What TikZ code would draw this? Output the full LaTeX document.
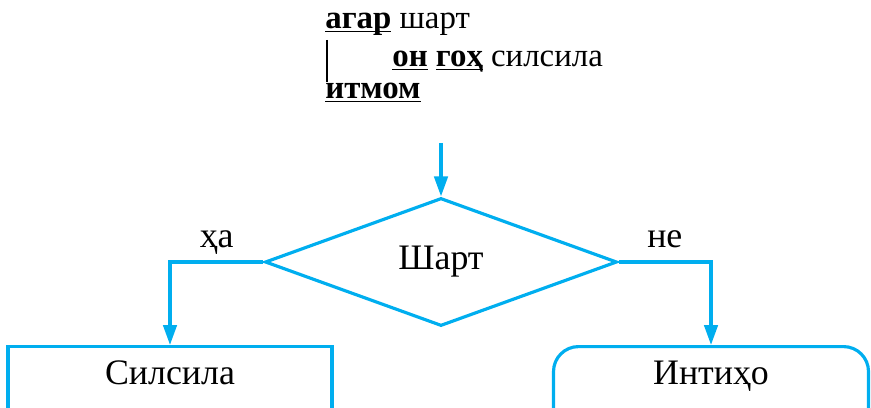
\documentclass[tikz,border=0pt]{standalone}
\usepackage{fontspec}
\setmainfont{Liberation Serif}
\usetikzlibrary{arrows.meta,positioning,shapes.geometric,calc}
\definecolor{flowblue}{RGB}{0,174,239}
\newcommand{\kw}[1]{\underline{\smash{\textbf{#1}}}}

\begin{document}
\begin{tikzpicture}[
    block/.style={draw=flowblue, line width=1.8pt, anchor=north, inner sep=0pt, text height=0.76cm, text depth=1cm, font=\fontsize{20.4}{24}\selectfont},
    cond/.style={diamond, draw=flowblue, line width=1.8pt, aspect=2.75, minimum width=7.04cm, minimum height=2.56cm, inner sep=0pt, font=\fontsize{20.4}{24}\selectfont},
    code/.style={anchor=base west, inner sep=0pt, font=\fontsize{18.7}{22}\selectfont},
    lbl/.style={anchor=base, inner sep=0pt, text=black, font=\fontsize{20.4}{24}\selectfont},
    arr/.style={-{Triangle[length=0.4cm, width=0.27cm]}, line width=1.8pt, flowblue},
]
\useasboundingbox (0,0) rectangle (17.42,8.14);
\clip (0,0) rectangle (17.42,8.14);

% pseudocode
\node[code] (l1) at (6.50,7.56) {\kw{агар} шарт};
\node[code] (l2) at (7.84,6.80) {\kw{он} \kw{гоҳ} силсила};
\node[code] (l3) at (6.50,6.16) {\kw{итмом}};
\draw[line width=1.4pt] ([shift={(0.04,-0.22)}]l1.base west) -- ([shift={(0.04,0.34)}]l3.base west);

% flowchart
\coordinate (in) at (8.82,5.28);
\node[cond] (c) at (8.82,2.90) {Шарт};
\node[block, minimum width=6.48cm] (loop) at (3.40,1.24) {Силсила};
\node[block, minimum width=6.30cm, rounded corners=0.5cm] (stop) at (14.22,1.24) {Интиҳо};

\draw[arr] (in) -- (c.north);
\draw[arr] (c.west) -| node[lbl, pos=0.25, yshift=0.3cm] (yes) {ҳа} (loop.north);
\draw[arr] (c.east) -| node[lbl, pos=0.25, yshift=0.3cm] (no) {не} (stop.north);
\end{tikzpicture}
\end{document}
